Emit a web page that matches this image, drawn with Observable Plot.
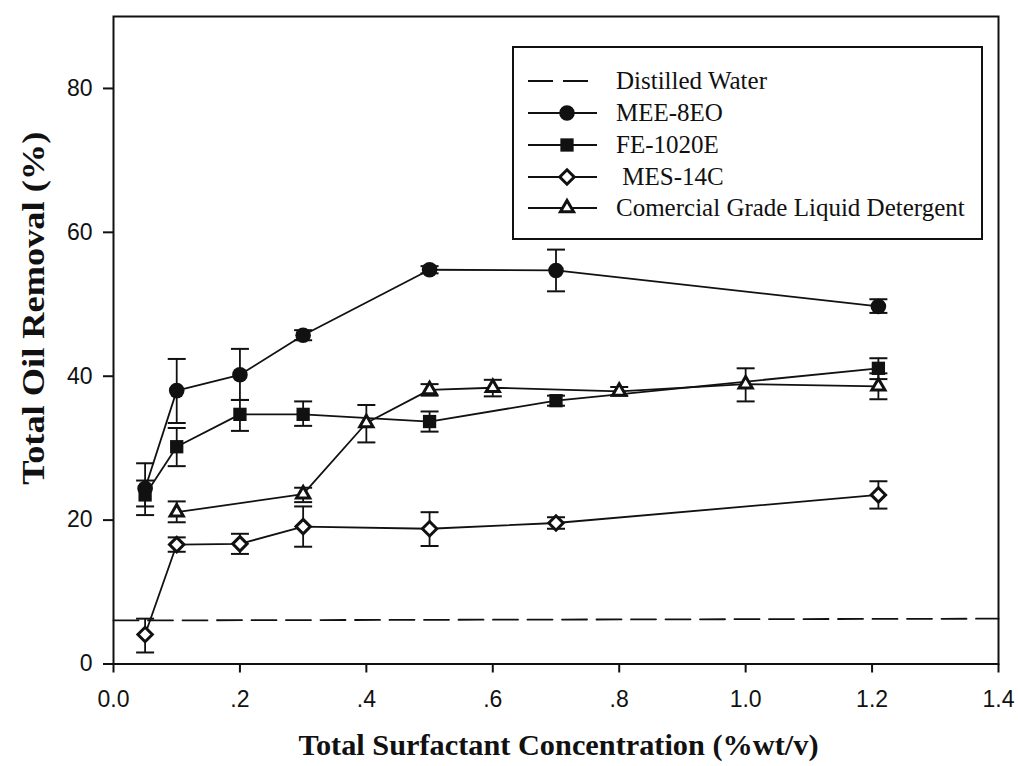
<!DOCTYPE html>
<html>
<head>
<meta charset="utf-8">
<script src="https://cdn.jsdelivr.net/npm/d3@7"></script>
<script src="https://cdn.jsdelivr.net/npm/@observablehq/plot@0.6"></script>
<style>
  body { margin: 0; background: #fff; }
  #wrap { position: relative; width: 1018px; height: 766px; background: #fff; }
  #legend { position: absolute; left: 512px; top: 46px; width: 471px; height: 194px; box-sizing: border-box;
    border: 2px solid #111; background: #fff; font-family: "Liberation Serif", "Times New Roman", serif;
    font-size: 25px; color: #111; }
  .row { position: absolute; left: 0; height: 32px; display: flex; align-items: center; white-space: pre; }
  .row svg { width: 102px; height: 32px; flex: none; }
</style>
</head>
<body>
<div id="wrap"></div>
<script>
// ---- data ----
const seriesNames = ["Distilled Water", "MEE-8EO", "FE-1020E", " MES-14C", "Comercial Grade Liquid Detergent"];

const waterX = [0, 1.4];
const waterY = [6.05, 6.3];

const meeX  = [0.05, 0.1, 0.2, 0.3, 0.5, 0.7, 1.21];
const meeY  = [24.4, 38.0, 40.2, 45.7, 54.8, 54.7, 49.7];
const meeLo = [21.9, 33.5, 36.7, 45.0, 54.3, 51.8, 48.8];
const meeHi = [27.9, 42.4, 43.8, 46.4, 55.3, 57.6, 50.7];

const feX  = [0.05, 0.1, 0.2, 0.3, 0.5, 0.7, 1.21];
const feY  = [23.5, 30.2, 34.7, 34.7, 33.7, 36.6, 41.1];
const feLo = [20.7, 27.5, 32.4, 33.1, 32.3, 35.9, 39.6];
const feHi = [25.5, 32.8, 36.7, 36.5, 35.1, 37.3, 42.5];

const mesX  = [0.05, 0.1, 0.2, 0.3, 0.5, 0.7, 1.21];
const mesY  = [4.1, 16.6, 16.7, 19.1, 18.8, 19.6, 23.5];
const mesLo = [1.6, 15.6, 15.3, 16.3, 16.4, 18.8, 21.6];
const mesHi = [6.3, 17.6, 18.1, 21.9, 21.1, 20.4, 25.4];

const cglX  = [0.1, 0.3, 0.4, 0.5, 0.6, 0.8, 1.0, 1.21];
const cglY  = [21.1, 23.6, 33.5, 38.1, 38.4, 37.9, 38.9, 38.6];
const cglLo = [19.7, 22.5, 30.8, 37.3, 37.2, 37.3, 36.5, 36.8];
const cglHi = [22.6, 24.5, 36.0, 38.9, 39.5, 38.5, 41.1, 40.4];

const xTicks = [0, 0.2, 0.4, 0.6, 0.8, 1.0, 1.2, 1.4];
const xTickLabels = ["0.0", ".2", ".4", ".6", ".8", "1.0", "1.2", "1.4"];
const yTicks = [0, 20, 40, 60, 80];

const xTitle = "Total Surfactant Concentration (%wt/v)";
const yTitle = "Total Oil Removal (%)";

// ---- build tables ----
const ink = "#111";
function rows(name, xs, ys, lo, hi) {
  return xs.map((x, i) => ({series: name, x, y: ys[i], lo: lo[i], hi: hi[i]}));
}
const water = waterX.map((x, i) => ({x, y: waterY[i]}));
const mee = rows(seriesNames[1], meeX, meeY, meeLo, meeHi);
const fe  = rows(seriesNames[2], feX, feY, feLo, feHi);
const mes = rows(seriesNames[3], mesX, mesY, mesLo, mesHi);
const cgl = rows(seriesNames[4], cglX, cglY, cglLo, cglHi);
const all = [...mee, ...fe, ...mes, ...cgl];

const cap = { draw(ctx, size) { const w = Math.sqrt(size / Math.PI); ctx.moveTo(-w, 0); ctx.lineTo(w, 0); } };

const styles = [
  {symbol: "circle",   fill: ink,    strokeWidth: 0, r: 7.8},
  {symbol: "square",   fill: ink,    strokeWidth: 0, r: 7.5},
  {symbol: "diamond2", fill: "#fff", strokeWidth: 3, r: 6.5},
  {symbol: "triangle2",fill: "#fff", strokeWidth: 3, r: 6.3}
];
const groups = [mee, fe, mes, cgl];

const chart = Plot.plot({
  width: 1018,
  height: 766,
  marginLeft: 113,
  marginRight: 20,
  marginTop: 16,
  marginBottom: 102.5,
  x: {domain: [0, 1.4]},
  y: {domain: [0, 90]},
  style: {fontFamily: "'Liberation Sans', Arial, sans-serif", fontSize: "23px", color: ink, background: "#fff"},
  marks: [
    Plot.line(water, {x: "x", y: "y", stroke: ink, strokeWidth: 1.8, strokeDasharray: "25,9.5"}),
    Plot.line(all, {x: "x", y: "y", z: "series", stroke: ink, strokeWidth: 1.8}),
    Plot.ruleX(all, {x: "x", y1: "lo", y2: "hi", stroke: ink, strokeWidth: 1.8}),
    Plot.dot(all, {x: "x", y: "hi", symbol: cap, r: 9, stroke: ink, strokeWidth: 2, fill: "none"}),
    Plot.dot(all, {x: "x", y: "lo", symbol: cap, r: 9, stroke: ink, strokeWidth: 2, fill: "none"}),
    ...groups.map((g, i) => Plot.dot(g, {x: "x", y: "y", symbol: styles[i].symbol, r: styles[i].r,
      fill: styles[i].fill, stroke: ink, strokeWidth: styles[i].strokeWidth})),
    Plot.frame({stroke: ink, strokeWidth: 2}),
    Plot.axisX(xTicks, {tickSize: 9, tickPadding: 18, strokeWidth: 2, label: null,
      tickFormat: d => xTickLabels[xTicks.indexOf(d)]}),
    Plot.axisY(yTicks, {tickSize: 10, tickPadding: 11, strokeWidth: 2, label: null}),
    Plot.text([yTitle], {text: d => d, frameAnchor: "left", textAnchor: "middle", dx: -80, dy: -32, rotate: -90, lineAnchor: "middle",
      fontFamily: "'Liberation Serif', 'Times New Roman', serif", fontWeight: "bold", fontSize: 32, fill: ink, className: "ytitle"}),
    Plot.text([xTitle], {text: d => d, frameAnchor: "bottom", textAnchor: "middle", dx: 2.5, dy: 81.5, lineAnchor: "middle",
      fontFamily: "'Liberation Serif', 'Times New Roman', serif", fontWeight: "bold", fontSize: 29, fill: ink, className: "xtitle"})
  ]
});

const wrap = document.getElementById("wrap");
wrap.appendChild(chart);

d3.select(chart).selectAll(".ytitle text").attr("textLength", 353).attr("lengthAdjust", "spacingAndGlyphs");
d3.select(chart).selectAll(".xtitle text").attr("textLength", 520).attr("lengthAdjust", "spacingAndGlyphs");

// ---- legend (inside the frame) ----
const legend = d3.select(wrap).append("div").attr("id", "legend");
const rowCenters = [33, 65, 97, 129, 160];
seriesNames.forEach((name, i) => {
  const row = legend.append("div").attr("class", "row").style("top", (rowCenters[i] - 16) + "px");
  const svg = row.append("svg");
  if (i === 0) {
    svg.append("line").attr("x1", 14).attr("x2", 76).attr("y1", 16).attr("y2", 16)
      .attr("stroke", ink).attr("stroke-width", 1.8).attr("stroke-dasharray", "25,10");
  } else {
    const s = styles[i - 1];
    svg.append("line").attr("x1", 14).attr("x2", 83).attr("y1", 16).attr("y2", 16)
      .attr("stroke", ink).attr("stroke-width", 1.8);
    const symMap = {circle: d3.symbolCircle, square: d3.symbolSquare, diamond2: d3.symbolDiamond2, triangle2: d3.symbolTriangle2};
    svg.append("path").attr("transform", "translate(53,16)")
      .attr("d", d3.symbol(symMap[s.symbol], Math.PI * s.r * s.r)())
      .attr("fill", s.fill).attr("stroke", ink).attr("stroke-width", s.strokeWidth);
  }
  row.append("span").text(name);
});
</script>
</body>
</html>
